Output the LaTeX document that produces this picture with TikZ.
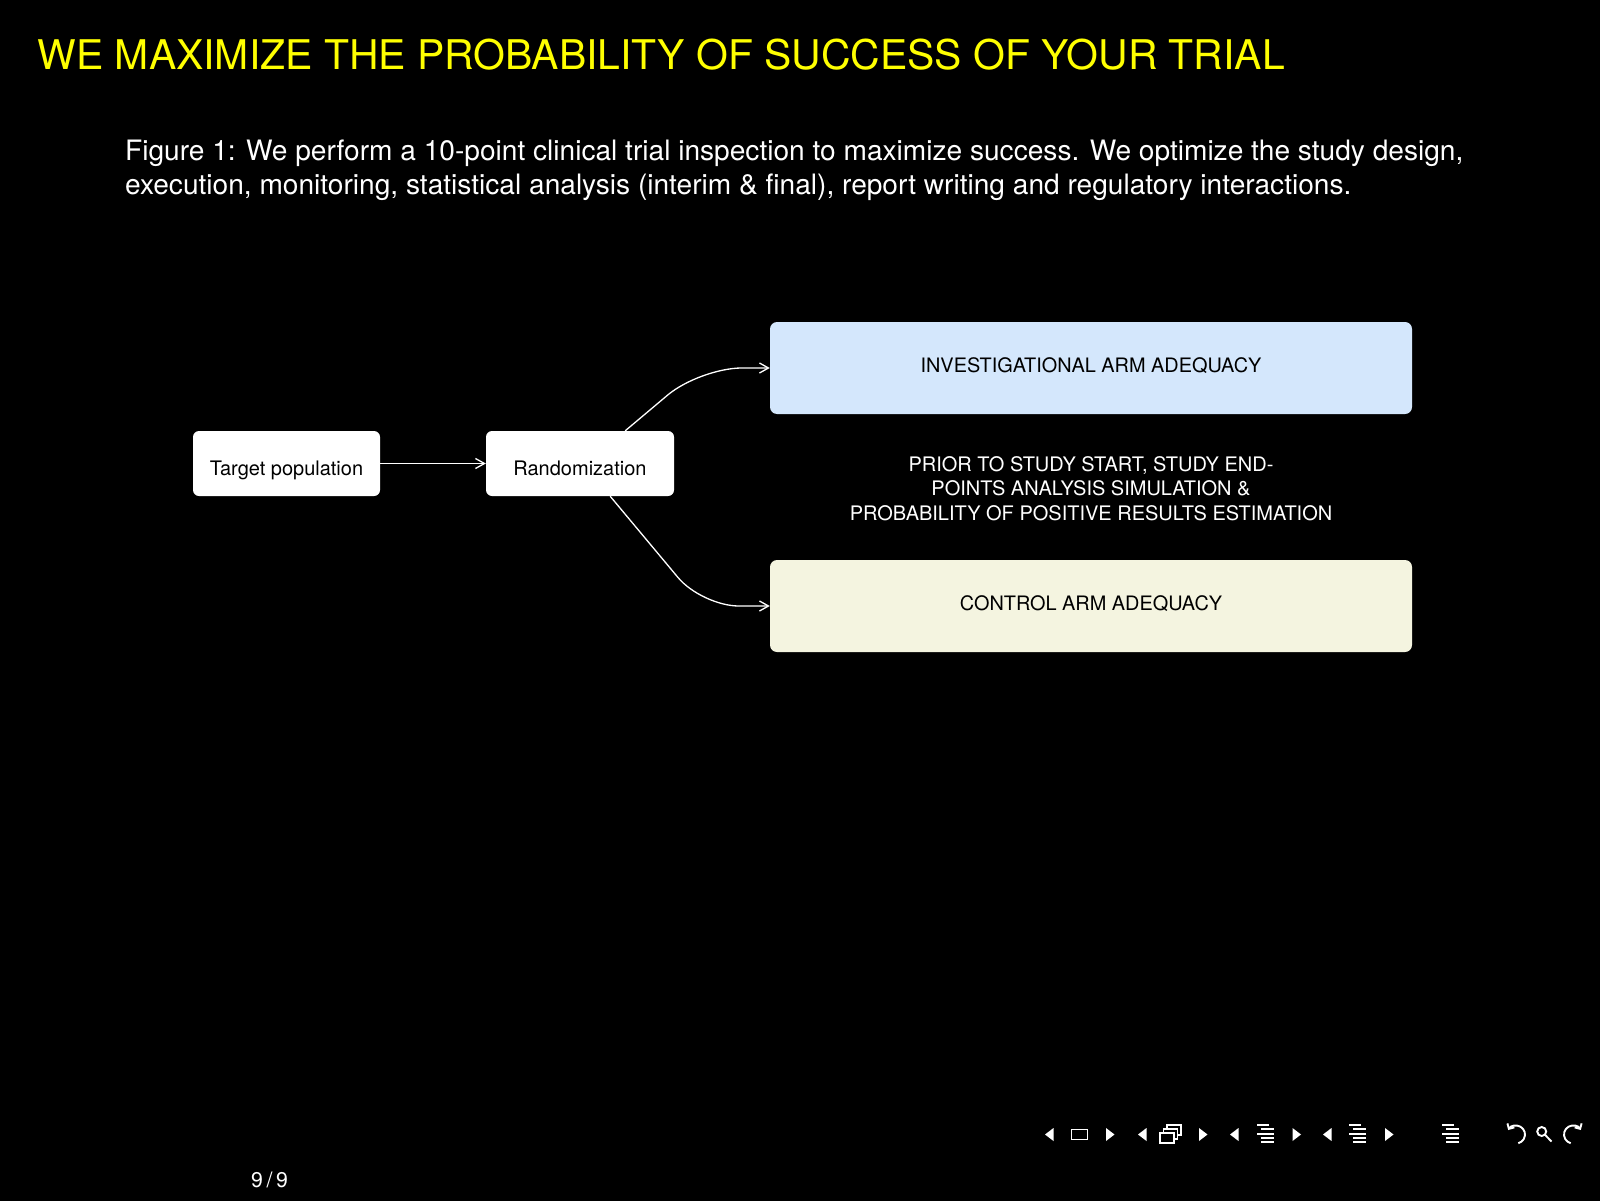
\documentclass[tikz,border=0pt]{standalone}
\usepackage{fontspec}
\setmainfont{TeX Gyre Heros}
\usepackage{xcolor}
\usepackage{tikz}
\usetikzlibrary{calc,arrows.meta}
\definecolor{bg}{HTML}{000000}
\definecolor{text}{HTML}{FFFFFF}
\definecolor{ink}{HTML}{000000}
\definecolor{gold}{HTML}{FFFF00}
\definecolor{armblue}{HTML}{D4E7FC}
\definecolor{armbeige}{HTML}{F4F4E0}
\tikzset{
  stepbox/.style={fill=text, rounded corners=6pt, inner sep=0pt, minimum width=187pt, minimum height=65pt,
    text=ink, font=\fontsize{20}{24}\selectfont, text height=23pt, text depth=0pt},
  arm/.style={rounded corners=7pt, inner sep=0pt, minimum width=642pt, minimum height=92pt,
    text=ink, font=\fontsize{19.9}{24}\selectfont, text height=14.3pt, text depth=4.5pt},
  link/.style={draw=text, line width=1.3pt, -{Straight Barb[length=9pt,width=10pt]}},
  ttl/.style={text=gold, font=\fontsize{40.9}{48}\selectfont, inner sep=0pt},
  captext/.style={text=text, font=\fontsize{28.1}{34.2}\selectfont, inner sep=0pt, align=left},
  note/.style={text=text, font=\fontsize{20}{24.3}\selectfont, inner sep=0pt, align=center},
  nav/.style={draw=text, line width=1.9pt},
  navfill/.style={fill=text}
}

\begin{document}
\begin{tikzpicture}[x=1pt,y=-1pt]
  \fill[bg] (0,0) rectangle (1600,1201);
  \useasboundingbox (0,0) rectangle (1600,1201);
  \node[ttl,anchor=base west] (title) at (37.5,70) {WE MAXIMIZE THE PROBABILITY OF SUCCESS OF YOUR TRIAL};
  \node[captext,anchor=west] (caption) at (125,170.5) {Figure 1: We perform a 10-point clinical trial inspection to maximize success. We optimize the study design,\\execution, monitoring, statistical analysis (interim \& final), report writing and regulatory interactions.};
  \node[stepbox] (target) at (286.5,463.5) {Target population};
  \node[stepbox,minimum width=188pt] (rand) at (580,463.5) {Randomization};
  \node[arm,fill=armblue] (inv) at (1091,368) {INVESTIGATIONAL ARM ADEQUACY};
  \node[arm,fill=armbeige] (ctrl) at (1091,606) {CONTROL ARM ADEQUACY};
  \node[note] (prior) at (1091,488.5) {PRIOR TO STUDY START, STUDY END-\\POINTS ANALYSIS SIMULATION \&\\PROBABILITY OF POSITIVE RESULTS ESTIMATION};
  \draw[link] (target) -- (rand);
  \draw[link,rounded corners=42pt] ($(rand.north west)!0.74!(rand.north east)$) -- ($(inv.west)+(-70,0)$) -- (inv.west);
  \draw[link,rounded corners=37pt] ($(rand.south west)!0.66!(rand.south east)$) -- ($(ctrl.west)+(-68,0)$) -- (ctrl.west);
  % page number and navigation symbols
  \node[text=text,font=\fontsize{21.3}{25}\selectfont,anchor=base west,inner sep=0pt] (page) at (251,1187) {9\,/\,9};
  \foreach \x in {1045,1138,1230,1323}{
    \fill[navfill] ({\x+8.5},1128) -- (\x,1134.5) -- ({\x+8.5},1141) -- cycle;}
  \foreach \x in {1106,1199,1292.5,1385}{
    \fill[navfill] (\x,1128) -- ({\x+8.5},1134.5) -- (\x,1141) -- cycle;}
  \draw[nav] (1071.5,1129.5) rectangle (1087.5,1139.5);
  \foreach \d in {7,3.5,0}{
    \filldraw[nav,fill=bg] ({1160+\d},{1133-1.2*\d}) rectangle ++(14,10);}
  \foreach \x in {1257,1349,1442}{
    \fill[navfill] (\x,1124.1) rectangle ++(12,1.8);
    \fill[navfill] ({\x+4},1128.4) rectangle ++(13,1.8);
    \fill[navfill] (\x,1132.8) rectangle ++(17,1.8);
    \fill[navfill] ({\x+4},1137.1) rectangle ++(13,1.8);
    \fill[navfill] ({\x+4},1141.4) rectangle ++(13,1.8);}
  \draw[nav,{Straight Barb[length=4pt,width=8pt]}-] (1508.2,1130) arc[start angle=210,end angle=435,radius=9];
  \draw[nav] (1541.7,1131.5) circle[radius=4.5];
  \draw[nav] (1545,1134.8) -- (1551.5,1141.5);
  \draw[nav,{Straight Barb[length=4pt,width=8pt]}-] (1580.8,1130) arc[start angle=-30,end angle=-255,radius=9];
\end{tikzpicture}
\end{document}
